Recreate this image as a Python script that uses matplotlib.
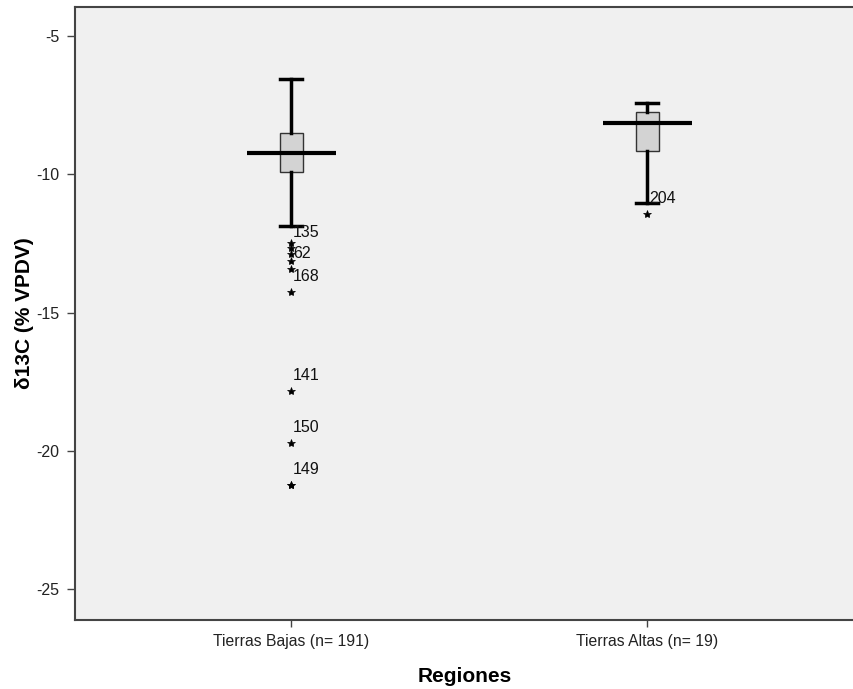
import matplotlib
matplotlib.use("Agg")
import matplotlib.pyplot as plt

plt.rcParams['font.family'] = ['Liberation Sans', 'DejaVu Sans']

# ---- data ----
categories = ["Tierras Bajas (n= 191)", "Tierras Altas (n= 19)"]
q1 = [-9.92, -9.16]
q3 = [-8.51, -7.75]
medians = [-9.23, -8.15]
whisker_low = [-11.87, -11.04]
whisker_high = [-6.56, -7.42]
fliers = [
    [-12.50, -12.67, -12.90, -13.15, -13.43, -14.26, -17.84, -19.72, -21.24, -21.24],
    [-11.44],
]
flier_labels = [
    [("135", -12.67), ("62", -13.43), ("168", -14.26), ("141", -17.84),
     ("150", -19.72), ("149", -21.24)],
    [("204", -11.44)],
]
y_ticks = [-5, -10, -15, -20, -25]

# ---- figure ----
fig = plt.figure(figsize=(8.54, 6.89), dpi=100)
ax = fig.add_axes([75/854, 69/689, 1.0 - 75/854, (620-7)/689])
ax.set_facecolor('#f0f0f0')

positions = [1, 2]
stats = []
for i in range(2):
    stats.append(dict(med=medians[i], q1=q1[i], q3=q3[i],
                      whislo=whisker_low[i], whishi=whisker_high[i],
                      fliers=fliers[i], label=categories[i]))

ax.bxp(stats, positions=positions, widths=0.065, patch_artist=True,
       boxprops=dict(facecolor='#d3d3d3', edgecolor='#333333', linewidth=1.0),
       whiskerprops=dict(color='black', linewidth=2.5),
       capprops=dict(color='black', linewidth=2.5),
       capwidths=0.062,
       medianprops=dict(linewidth=0),
       flierprops=dict(marker='*', markersize=6, markerfacecolor='black',
                       markeredgecolor='black', markeredgewidth=0.5,
                       linestyle='none'),
       zorder=3)

# wide median lines
for p, m in zip(positions, medians):
    ax.hlines(m, p - 0.125, p + 0.125, colors='black', linewidth=3, zorder=4)

# outlier labels
for p, labs in zip(positions, flier_labels):
    for txt, v in labs:
        ax.annotate(txt, (p, v), xytext=(1.5, 11.5), textcoords='offset points',
                    ha='left', va='center', fontsize=11.5, color='#111111', zorder=5)

ax.set_xlim(0.393, 2.581)
ax.set_ylim(-26.12, -3.95)
ax.set_xticks(positions)
ax.set_xticklabels(categories, fontsize=11.3)
ax.set_yticks(y_ticks)
ax.set_yticklabels([str(t) for t in y_ticks], fontsize=11.5)
ax.tick_params(axis='both', direction='out', length=5, width=1, color='#444444',
               labelcolor='#222222', pad=3)
ax.tick_params(axis='y', length=6, pad=5)
ax.tick_params(axis='x', pad=5)

for s in ['left', 'bottom', 'top']:
    ax.spines[s].set_color('#444444')
    ax.spines[s].set_linewidth(1.5)
ax.spines['right'].set_visible(False)

ax.set_ylabel("δ13C (% VPDV)", fontsize=15, fontweight='bold')
ax.yaxis.set_label_coords(-0.052, 0.5)
ax.set_xlabel("Regiones", fontsize=15, fontweight='bold', labelpad=13)

fig.savefig("out.png", dpi=100)
